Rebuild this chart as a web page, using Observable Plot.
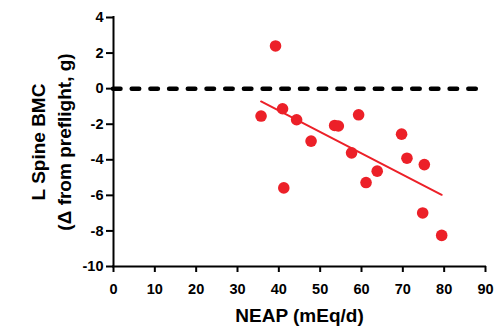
<!DOCTYPE html>
<html><head><meta charset="utf-8">
<script src="https://cdn.jsdelivr.net/npm/d3@7"></script>
<script src="https://cdn.jsdelivr.net/npm/@observablehq/plot@0.6"></script>
<style>body{margin:0;background:#fff}</style>
</head><body><div id="chart"></div>
<script>
const neap = [39.2, 35.7, 40.9, 44.3, 47.8, 53.5, 54.4, 59.3, 69.7, 41.2, 57.6, 61.1, 63.8, 71.0, 75.2, 74.8, 79.4];
const bmc  = [2.40, -1.54, -1.13, -1.75, -2.95, -2.07, -2.10, -1.47, -2.56, -5.58, -3.61, -5.28, -4.64, -3.91, -4.27, -6.99, -8.25];
const xTicks = [0, 10, 20, 30, 40, 50, 60, 70, 80, 90];
const yTicks = [-10, -8, -6, -4, -2, 0, 2, 4];
const xLabel = "NEAP (mEq/d)";
const yLabel = "L Spine BMC\n(Δ from preflight, g)";
const data = neap.map((x, i) => ({x, y: bmc[i]}));
const red = "#ec2028";
const font = "'Liberation Sans', Arial, Helvetica, sans-serif";
const chart = Plot.plot({
  width: 495, height: 327,
  marginLeft: 113, marginRight: 10, marginTop: 17, marginBottom: 61,
  style: {fontFamily: font, background: "#fff", color: "#000"},
  x: {domain: [0, 90]},
  y: {domain: [-10, 4]},
  marks: [
    Plot.ruleY([0], {stroke: "#000", strokeWidth: 4.5, strokeDasharray: "7.5,11.2", strokeLinecap: "round"}),
    Plot.linearRegressionY(data, {x: "x", y: "y", stroke: red, strokeWidth: 2, ci: 0}),
    Plot.dot(data, {x: "x", y: "y", r: 5.8, fill: red}),
    Plot.axisX({ticks: xTicks, tickSize: 6, tickPadding: 11, tickFormat: d => String(d), fontSize: 14.5, fontWeight: "bold", strokeWidth: 2, label: null}),
    Plot.axisY({ticks: yTicks, tickSize: 7, tickPadding: 3, tickFormat: d => String(d), fontSize: 14.5, fontWeight: "bold", strokeWidth: 2, label: null}),
    Plot.ruleY([-10], {stroke: "#000", strokeWidth: 2, strokeLinecap: "square"}),
    Plot.ruleX([0], {stroke: "#000", strokeWidth: 2, strokeLinecap: "square"}),
    Plot.text([xLabel], {text: d => d, frameAnchor: "bottom", dy: 49, textAnchor: "middle", lineAnchor: "middle", fontSize: 19, fontWeight: "bold"}),
    Plot.text([yLabel], {text: d => d, frameAnchor: "left", dx: -64, rotate: -90, textAnchor: "middle", lineAnchor: "middle", lineHeight: 1.37, fontSize: 19, fontWeight: "bold"})
  ]
});
document.getElementById("chart").appendChild(chart);
</script>
</body></html>
